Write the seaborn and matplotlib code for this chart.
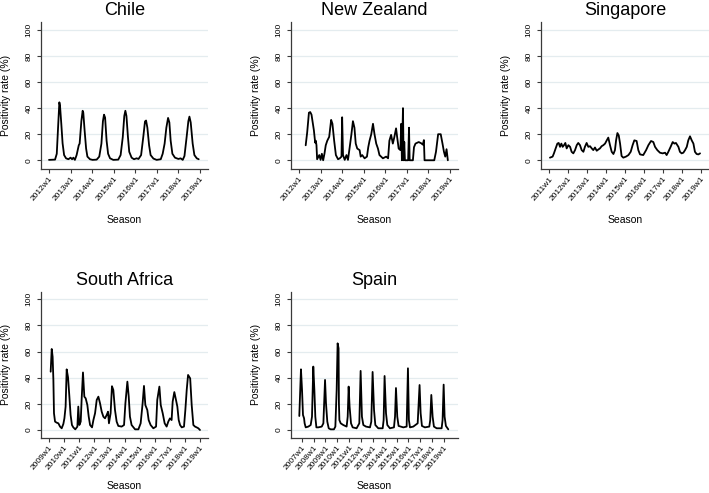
####################################  Positivity rate per country (weekly surveillance) ####################################

import matplotlib
matplotlib.use("Agg")
import matplotlib.pyplot as plt
import seaborn as sns
import pandas as pd

sns.set_style("white")
plt.rcParams["font.family"] = ["Liberation Sans", "DejaVu Sans"]
plt.rcParams["text.color"] = "black"
plt.rcParams["axes.labelcolor"] = "black"
plt.rcParams["xtick.color"] = "black"
plt.rcParams["ytick.color"] = "black"

####################################  1. Data (year as decimal, rate in %) ####################################

chile_year = [2012.00, 2012.28, 2012.36, 2012.42, 2012.48, 2012.51, 2012.57, 2012.63, 2012.70, 2012.79,
              2012.90, 2013.00, 2013.07, 2013.13, 2013.20, 2013.28, 2013.38, 2013.42, 2013.50, 2013.56,
              2013.59, 2013.65, 2013.72, 2013.78, 2013.90, 2014.02, 2014.21, 2014.33, 2014.43, 2014.50,
              2014.55, 2014.60, 2014.67, 2014.74, 2014.83, 2014.98, 2015.21, 2015.32, 2015.42, 2015.49,
              2015.54, 2015.59, 2015.66, 2015.72, 2015.83, 2015.94, 2016.06, 2016.15, 2016.27, 2016.37,
              2016.45, 2016.50, 2016.56, 2016.64, 2016.71, 2016.84, 2016.99, 2017.18, 2017.27, 2017.36,
              2017.44, 2017.52, 2017.58, 2017.64, 2017.72, 2017.84, 2018.00, 2018.10, 2018.20, 2018.28,
              2018.38, 2018.46, 2018.51, 2018.57, 2018.66, 2018.74, 2018.85, 2018.94]
chile_rate = [0.3, 0.5, 5.0, 25.0, 44.5, 42.0, 28.0, 13.0, 4.0, 1.5,
              0.8, 2.0, 0.8, 2.0, 0.3, 4.0, 11.5, 12.8, 30.0, 38.0,
              36.5, 23.0, 9.0, 2.8, 0.8, 0.3, 0.5, 2.8, 12.8, 30.0,
              35.0, 32.8, 15.0, 5.0, 1.5, 0.3, 0.5, 4.0, 17.8, 34.0,
              38.0, 34.0, 17.8, 6.5, 2.0, 0.8, 1.5, 1.0, 4.0, 17.8,
              29.8, 30.5, 25.0, 11.5, 4.0, 1.3, 0.3, 0.8, 5.0, 12.8,
              25.0, 32.5, 29.0, 15.0, 5.0, 2.0, 1.0, 1.5, 0.3, 3.3,
              17.8, 30.0, 33.5, 29.0, 12.8, 4.0, 1.5, 0.8]

nz_year = [2012.31, 2012.38, 2012.46, 2012.52, 2012.58, 2012.69, 2012.75, 2012.78, 2012.81, 2012.84,
           2012.94, 2013.00, 2013.06, 2013.12, 2013.18, 2013.24, 2013.31, 2013.40, 2013.49, 2013.55,
           2013.63, 2013.71, 2013.81, 2013.89, 2013.97, 2014.00, 2014.04, 2014.12, 2014.20, 2014.27,
           2014.35, 2014.43, 2014.50, 2014.57, 2014.63, 2014.70, 2014.81, 2014.86, 2014.93, 2015.04,
           2015.15, 2015.21, 2015.27, 2015.35, 2015.43, 2015.50, 2015.58, 2015.66, 2015.73, 2015.89,
           2016.04, 2016.13, 2016.19, 2016.27, 2016.35, 2016.42, 2016.50, 2016.55, 2016.62, 2016.70,
           2016.74, 2016.77, 2016.82, 2016.85, 2016.88, 2016.91, 2017.06, 2017.10, 2017.13, 2017.28,
           2017.33, 2017.40, 2017.55, 2017.67, 2017.74, 2017.79, 2017.82, 2018.27, 2018.35, 2018.45,
           2018.57, 2018.65, 2018.72, 2018.78, 2018.84, 2018.90]
nz_rate = [11.5, 21.5, 36.5, 37.0, 35.0, 23.0, 13.5, 15.0, 11.5, 0.8,
           4.0, 0.3, 5.0, 0.0, 5.0, 11.5, 15.0, 18.0, 31.0, 28.0,
           15.0, 4.0, 0.8, 1.5, 2.8, 33.0, 4.0, 0.3, 4.0, 0.3,
           10.0, 20.0, 30.0, 25.0, 12.8, 9.0, 7.8, 2.8, 4.0, 1.5,
           2.8, 10.0, 15.0, 20.0, 28.0, 20.0, 12.8, 9.0, 4.0, 1.5,
           2.8, 1.5, 15.0, 19.5, 12.8, 17.8, 24.5, 17.8, 9.0, 7.8,
           28.0, 0.0, 40.0, 0.0, 14.0, 0.0, 0.0, 25.0, 0.0, 0.0,
           10.0, 12.8, 14.0, 13.0, 12.0, 15.5, 0.0, 0.0, 6.5, 20.0,
           20.0, 13.0, 6.5, 2.8, 8.5, 0.0]

sing_year = [2011.05, 2011.19, 2011.26, 2011.35, 2011.44, 2011.51, 2011.58, 2011.65, 2011.72, 2011.79,
             2011.86, 2011.93, 2012.02, 2012.11, 2012.19, 2012.28, 2012.37, 2012.46, 2012.54, 2012.63,
             2012.72, 2012.81, 2012.89, 2012.98, 2013.07, 2013.16, 2013.25, 2013.33, 2013.42, 2013.51,
             2013.60, 2013.68, 2013.77, 2013.86, 2013.95, 2014.04, 2014.12, 2014.21, 2014.30, 2014.39,
             2014.47, 2014.53, 2014.60, 2014.67, 2014.74, 2014.82, 2014.91, 2015.05, 2015.18, 2015.30,
             2015.40, 2015.49, 2015.61, 2015.70, 2015.79, 2015.96, 2016.11, 2016.23, 2016.37, 2016.49,
             2016.58, 2016.70, 2016.84, 2016.98, 2017.11, 2017.19, 2017.28, 2017.40, 2017.51, 2017.60,
             2017.68, 2017.81, 2017.89, 2017.98, 2018.07, 2018.16, 2018.25, 2018.33, 2018.42, 2018.51,
             2018.60, 2018.68, 2018.77, 2018.86, 2018.95]
sing_rate = [2.0, 2.8, 5.3, 9.1, 12.8, 13.3, 10.3, 12.8, 10.3, 11.6,
             13.3, 9.1, 11.6, 10.3, 6.5, 5.3, 7.8, 11.6, 13.3, 11.6,
             7.8, 6.5, 10.3, 13.3, 10.3, 10.8, 9.1, 7.8, 9.8, 7.3,
             8.3, 9.1, 10.8, 11.6, 12.8, 15.3, 17.4, 11.6, 6.5, 4.8,
             7.8, 15.3, 20.9, 19.1, 12.8, 3.3, 2.0, 2.8, 4.0, 6.5,
             11.6, 15.3, 14.8, 7.8, 4.5, 4.0, 7.8, 11.6, 14.8, 14.0,
             10.3, 7.8, 5.8, 5.3, 5.8, 4.0, 6.5, 10.3, 14.0, 12.8,
             13.3, 10.3, 6.5, 5.3, 5.8, 7.8, 10.3, 15.3, 18.4, 15.3,
             12.8, 6.5, 4.8, 4.5, 5.3]

sa_year = [2009.11, 2009.18, 2009.24, 2009.29, 2009.33, 2009.40, 2009.51, 2009.62, 2009.73, 2009.84,
           2009.95, 2010.02, 2010.10, 2010.17, 2010.26, 2010.35, 2010.43, 2010.52, 2010.61, 2010.74,
           2010.88, 2010.94, 2011.01, 2011.10, 2011.16, 2011.25, 2011.34, 2011.43, 2011.54, 2011.63,
           2011.72, 2011.85, 2011.94, 2012.05, 2012.16, 2012.27, 2012.38, 2012.49, 2012.60, 2012.71,
           2012.82, 2012.91, 2012.97, 2013.08, 2013.17, 2013.26, 2013.37, 2013.48, 2013.59, 2013.81,
           2013.97, 2014.06, 2014.19, 2014.28, 2014.36, 2014.47, 2014.70, 2014.92, 2015.07, 2015.20,
           2015.29, 2015.38, 2015.51, 2015.60, 2015.73, 2015.91, 2016.09, 2016.17, 2016.31, 2016.40,
           2016.53, 2016.66, 2016.79, 2016.90, 2017.01, 2017.12, 2017.19, 2017.30, 2017.41, 2017.50,
           2017.59, 2017.68, 2017.79, 2017.94, 2018.03, 2018.12, 2018.21, 2018.35, 2018.45, 2018.56,
           2018.67, 2018.78, 2018.89, 2019.00]
sa_rate = [44.6, 62.0, 56.0, 38.3, 12.8, 6.4, 5.6, 5.1, 2.6, 1.3,
           4.6, 8.9, 17.9, 46.4, 40.3, 25.5, 11.5, 3.8, 2.0, 0.5,
           2.6, 17.9, 3.8, 6.4, 23.0, 44.0, 25.5, 24.2, 19.1, 10.2,
           3.8, 2.0, 7.6, 12.8, 23.0, 25.5, 20.4, 14.0, 10.2, 8.9,
           11.5, 14.0, 5.1, 12.8, 33.5, 30.6, 15.3, 6.4, 3.1, 2.6,
           3.8, 20.4, 37.0, 25.5, 10.2, 3.8, 0.5, 0.5, 5.1, 20.4,
           33.7, 19.1, 15.3, 7.6, 3.8, 1.3, 2.6, 23.0, 33.2, 19.1,
           12.8, 5.1, 2.6, 6.4, 8.9, 7.6, 21.7, 29.0, 23.0, 17.9,
           7.6, 3.8, 2.0, 2.6, 15.3, 30.6, 42.1, 39.5, 19.1, 3.8,
           2.6, 2.0, 1.3, 0.0]

spain_year = [2006.80, 2006.94, 2007.03, 2007.11, 2007.20, 2007.25, 2007.34, 2007.56, 2007.76, 2007.87,
              2007.98, 2008.07, 2008.15, 2008.24, 2008.40, 2008.69, 2008.83, 2008.97, 2009.05, 2009.16,
              2009.28, 2009.44, 2009.72, 2009.84, 2009.95, 2010.03, 2010.11, 2010.14, 2010.18, 2010.29,
              2010.51, 2010.79, 2010.88, 2010.96, 2011.04, 2011.16, 2011.30, 2011.63, 2011.86, 2011.97,
              2012.08, 2012.20, 2012.42, 2012.76, 2012.87, 2012.98, 2013.10, 2013.21, 2013.46, 2013.83,
              2013.91, 2013.99, 2014.11, 2014.22, 2014.44, 2014.78, 2014.87, 2014.95, 2015.06, 2015.17,
              2015.57, 2015.85, 2015.96, 2016.04, 2016.13, 2016.41, 2016.78, 2016.94, 2017.03, 2017.14,
              2017.39, 2017.76, 2017.84, 2017.93, 2018.04, 2018.15, 2018.38, 2018.80, 2018.88, 2018.97,
              2019.05, 2019.16, 2019.36]
spain_rate = [10.7, 46.4, 30.6, 11.5, 9.0, 5.1, 2.0, 2.6, 3.8, 10.2,
              48.5, 30.6, 10.2, 2.0, 2.0, 2.6, 5.1, 38.3, 20.4, 6.4,
              1.3, 0.5, 0.5, 2.6, 30.6, 66.3, 62.5, 20.0, 7.6, 5.1,
              3.8, 2.6, 10.2, 33.2, 17.9, 5.1, 2.0, 1.3, 5.1, 45.2,
              10.2, 3.8, 2.6, 2.0, 6.4, 44.4, 15.3, 3.8, 1.3, 1.3,
              7.6, 41.3, 12.8, 3.8, 1.3, 2.0, 10.2, 32.1, 10.2, 3.1,
              2.0, 2.6, 47.2, 7.6, 2.0, 2.6, 5.1, 34.4, 12.8, 3.1,
              2.0, 2.6, 7.6, 26.8, 10.2, 2.6, 1.3, 1.3, 7.6, 34.7,
              10.2, 3.1, 0.5]

chile_ticks = list(range(2012, 2020))
nz_ticks = list(range(2012, 2020))
sing_ticks = list(range(2011, 2020))
sa_ticks = list(range(2009, 2020))
spain_ticks = list(range(2007, 2020))

####################################  2. Layout (pixel boxes of each plot region) ####################################

W, H = 709, 493
fig = plt.figure(figsize=(W / 100, H / 100), dpi=100)

def px_axes(left, right, top, bottom):
    return fig.add_axes([left / W, 1 - bottom / H, (right - left) / W, (bottom - top) / H])

# name, data, ticks, pixel box (left, right, top, bottom), xlim, ylim, y-pixel of "Season"
panels = [
    ("Chile", chile_year, chile_rate, chile_ticks, (41, 208, 22.3, 169), (2011.629, 2019.371), (-6.7, 105.9), 220),
    ("New Zealand", nz_year, nz_rate, nz_ticks, (291, 458, 22.3, 169), (2011.629, 2019.371), (-6.7, 105.9), 220),
    ("Singapore", sing_year, sing_rate, sing_ticks, (541, 709, 22.3, 169), (2010.579, 2019.42), (-6.7, 105.9), 220),
    ("South Africa", sa_year, sa_rate, sa_ticks, (41, 208, 291.7, 437.7), (2008.47, 2019.53), (-5.9, 105.8), 486),
    ("Spain", spain_year, spain_rate, spain_ticks, (291, 458, 291.7, 437.7), (2006.10, 2020.18), (-5.9, 105.8), 486),
]

grid_color = "#e4ecef"
axis_color = "#3a3a3a"
ylabel_offset = 35  # px between y-axis line and centre of the y label

####################################  3. Draw each country ####################################

for name, years, rates, ticks, box, xlim, ylim, season_y in panels:
    ax = px_axes(*box)
    df = pd.DataFrame({"Season": years, "rate": rates})

    for g in [0, 20, 40, 60, 80, 100]:
        ax.axhline(g, color=grid_color, linewidth=0.9, zorder=0)

    sns.lineplot(data=df, x="Season", y="rate", ax=ax, color="black",
                 linewidth=1.3, estimator=None, sort=False)

    ax.set_xlim(*xlim)
    ax.set_ylim(*ylim)
    ax.set_xticks(ticks)
    ax.set_xticklabels([f"{t}w1" for t in ticks], rotation=50, ha="right",
                       rotation_mode="anchor", fontsize=6)
    ax.set_yticks([0, 20, 40, 60, 80, 100])
    ax.set_yticklabels(["0", "20", "40", "60", "80", "100"], rotation=90,
                       va="center", fontsize=6)

    ax.tick_params(axis="both", which="major", length=3, width=0.8,
                   color=axis_color, direction="out", bottom=True, left=True)
    ax.tick_params(axis="x", pad=1.5)
    ax.tick_params(axis="y", pad=3)

    for side in ["top", "right"]:
        ax.spines[side].set_visible(False)
    for side in ["left", "bottom"]:
        ax.spines[side].set_color(axis_color)
        ax.spines[side].set_linewidth(0.9)

    left, right, top, bottom = box
    ax.set_title(name, fontsize=13, pad=5, color="black")
    ax.set_xlabel("Season", fontsize=7.5, va="center")
    ax.xaxis.set_label_coords(0.5, -(season_y - bottom) / (bottom - top))
    ax.set_ylabel("Positivity rate (%)", fontsize=7.5, va="center")
    ax.yaxis.set_label_coords(-ylabel_offset / (right - left), 0.5)

#  Guardar
plt.savefig("out.png", dpi=100)
plt.close()
